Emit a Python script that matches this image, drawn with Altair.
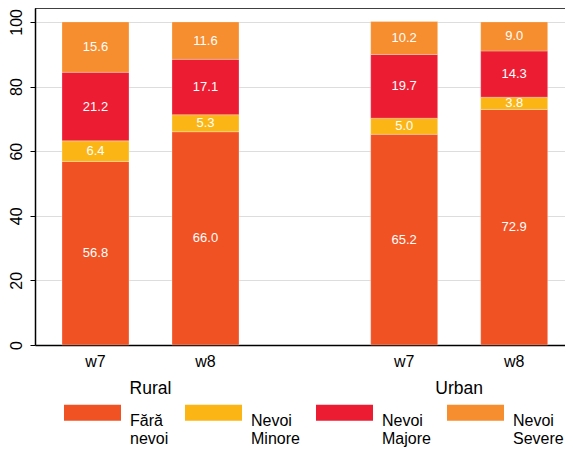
import altair as alt
import pandas as pd

groups = ["Rural", "Urban"]
waves = ["w7", "w8"]
categories = ["Fără nevoi", "Nevoi Minore", "Nevoi Majore", "Nevoi Severe"]
colors = ["#F05224", "#FBB616", "#EC1C33", "#F68D2E"]

# values per (group, wave) in category order
rural_w7 = [56.8, 6.4, 21.2, 15.6]
rural_w8 = [66.0, 5.3, 17.1, 11.6]
urban_w7 = [65.2, 5.0, 19.7, 10.2]
urban_w8 = [72.9, 3.8, 14.3, 9.0]

series = {
    ("Rural", "w7"): rural_w7,
    ("Rural", "w8"): rural_w8,
    ("Urban", "w7"): urban_w7,
    ("Urban", "w8"): urban_w8,
}

rows = []
for (g, w), vals in series.items():
    for i, (c, v) in enumerate(zip(categories, vals)):
        rows.append({"group": g, "wave": w, "category": c, "value": v, "order": i})
df = pd.DataFrame(rows)

FONT = "Liberation Sans"
W, H = 530, 337

x_enc = alt.X("group:N", sort=groups,
              scale=alt.Scale(paddingInner=0.3145, paddingOuter=0.0157, align=1),
              axis=alt.Axis(title=None, ticks=False, labelPadding=34, labelFontSize=17.5,
                            labelFont=FONT, labelColor="black", domainColor="black",
                            domainWidth=1.5, labelAngle=0, grid=False))
xo_enc = alt.XOffset("wave:N", sort=waves,
                     scale=alt.Scale(paddingInner=0.3909, paddingOuter=0.1573))

bars = alt.Chart(df).mark_bar(stroke="white", strokeWidth=0.6, strokeOpacity=0.45).encode(
    x=x_enc,
    xOffset=xo_enc,
    y=alt.Y("value:Q", stack="zero",
            scale=alt.Scale(domain=[0, 104.3], nice=False, zero=True),
            axis=alt.Axis(title=None, values=[0, 20, 40, 60, 80, 100], labelAngle=270,
                          labelAlign="center", labelBaseline="alphabetic", labelPadding=9,
                          labelFontSize=16, labelFont=FONT, labelColor="black",
                          tickColor="black", tickSize=5, tickWidth=1,
                          domainColor="black", domainWidth=1.5,
                          grid=True, gridColor="#dddddd", gridWidth=1)),
    color=alt.Color("category:N", sort=categories,
                    scale=alt.Scale(domain=categories, range=colors),
                    legend=alt.Legend(title=None, orient="none", legendX=29, legendY=376,
                                      direction="horizontal",
                                      symbolType="M-1,-0.2807H1V0.2807H-1Z", symbolSize=3249,
                                      symbolStrokeWidth=0, symbolOpacity=1,
                                      labelFontSize=16, labelFont=FONT, labelColor="black",
                                      labelOffset=9, columnPadding=16, padding=0,
                                      labelBaseline="top",
                                      labelExpr="split(datum.label, ' ')")),
    order=alt.Order("order:Q"),
)

labels = alt.Chart(df).transform_stack(
    stack="value", groupby=["group", "wave"],
    sort=[alt.SortField("order", "ascending")], as_=["y0", "y1"]
).transform_calculate(
    mid="(datum.y0 + datum.y1) / 2"
).mark_text(color="white", fontSize=13, font=FONT, baseline="middle").encode(
    x=alt.X("group:N", sort=groups),
    xOffset=alt.XOffset("wave:N", sort=waves),
    y=alt.Y("mid:Q"),
    text=alt.Text("value:Q", format=".1f"),
)

wave_labels = alt.Chart(df).transform_filter("datum.order == 0").mark_text(
    color="black", fontSize=16, font=FONT, baseline="alphabetic"
).encode(
    x=alt.X("group:N", sort=groups),
    xOffset=alt.XOffset("wave:N", sort=waves),
    y=alt.value(H + 22),
    text="wave:N",
)

top_line = alt.Chart(pd.DataFrame({"a": [0]})).mark_rule(color="black", strokeWidth=1.5).encode(
    y=alt.value(0), x=alt.value(0), x2=alt.value(W)
)

chart = alt.layer(bars, labels, wave_labels, top_line).properties(
    width=W, height=H,
    autosize=alt.AutoSizeParams(type="none"),
    padding={"left": 27, "top": 0, "right": 0, "bottom": 107},
).configure_view(stroke=None)

chart.save("out.html", embed_options={"renderer": "svg", "actions": False})
